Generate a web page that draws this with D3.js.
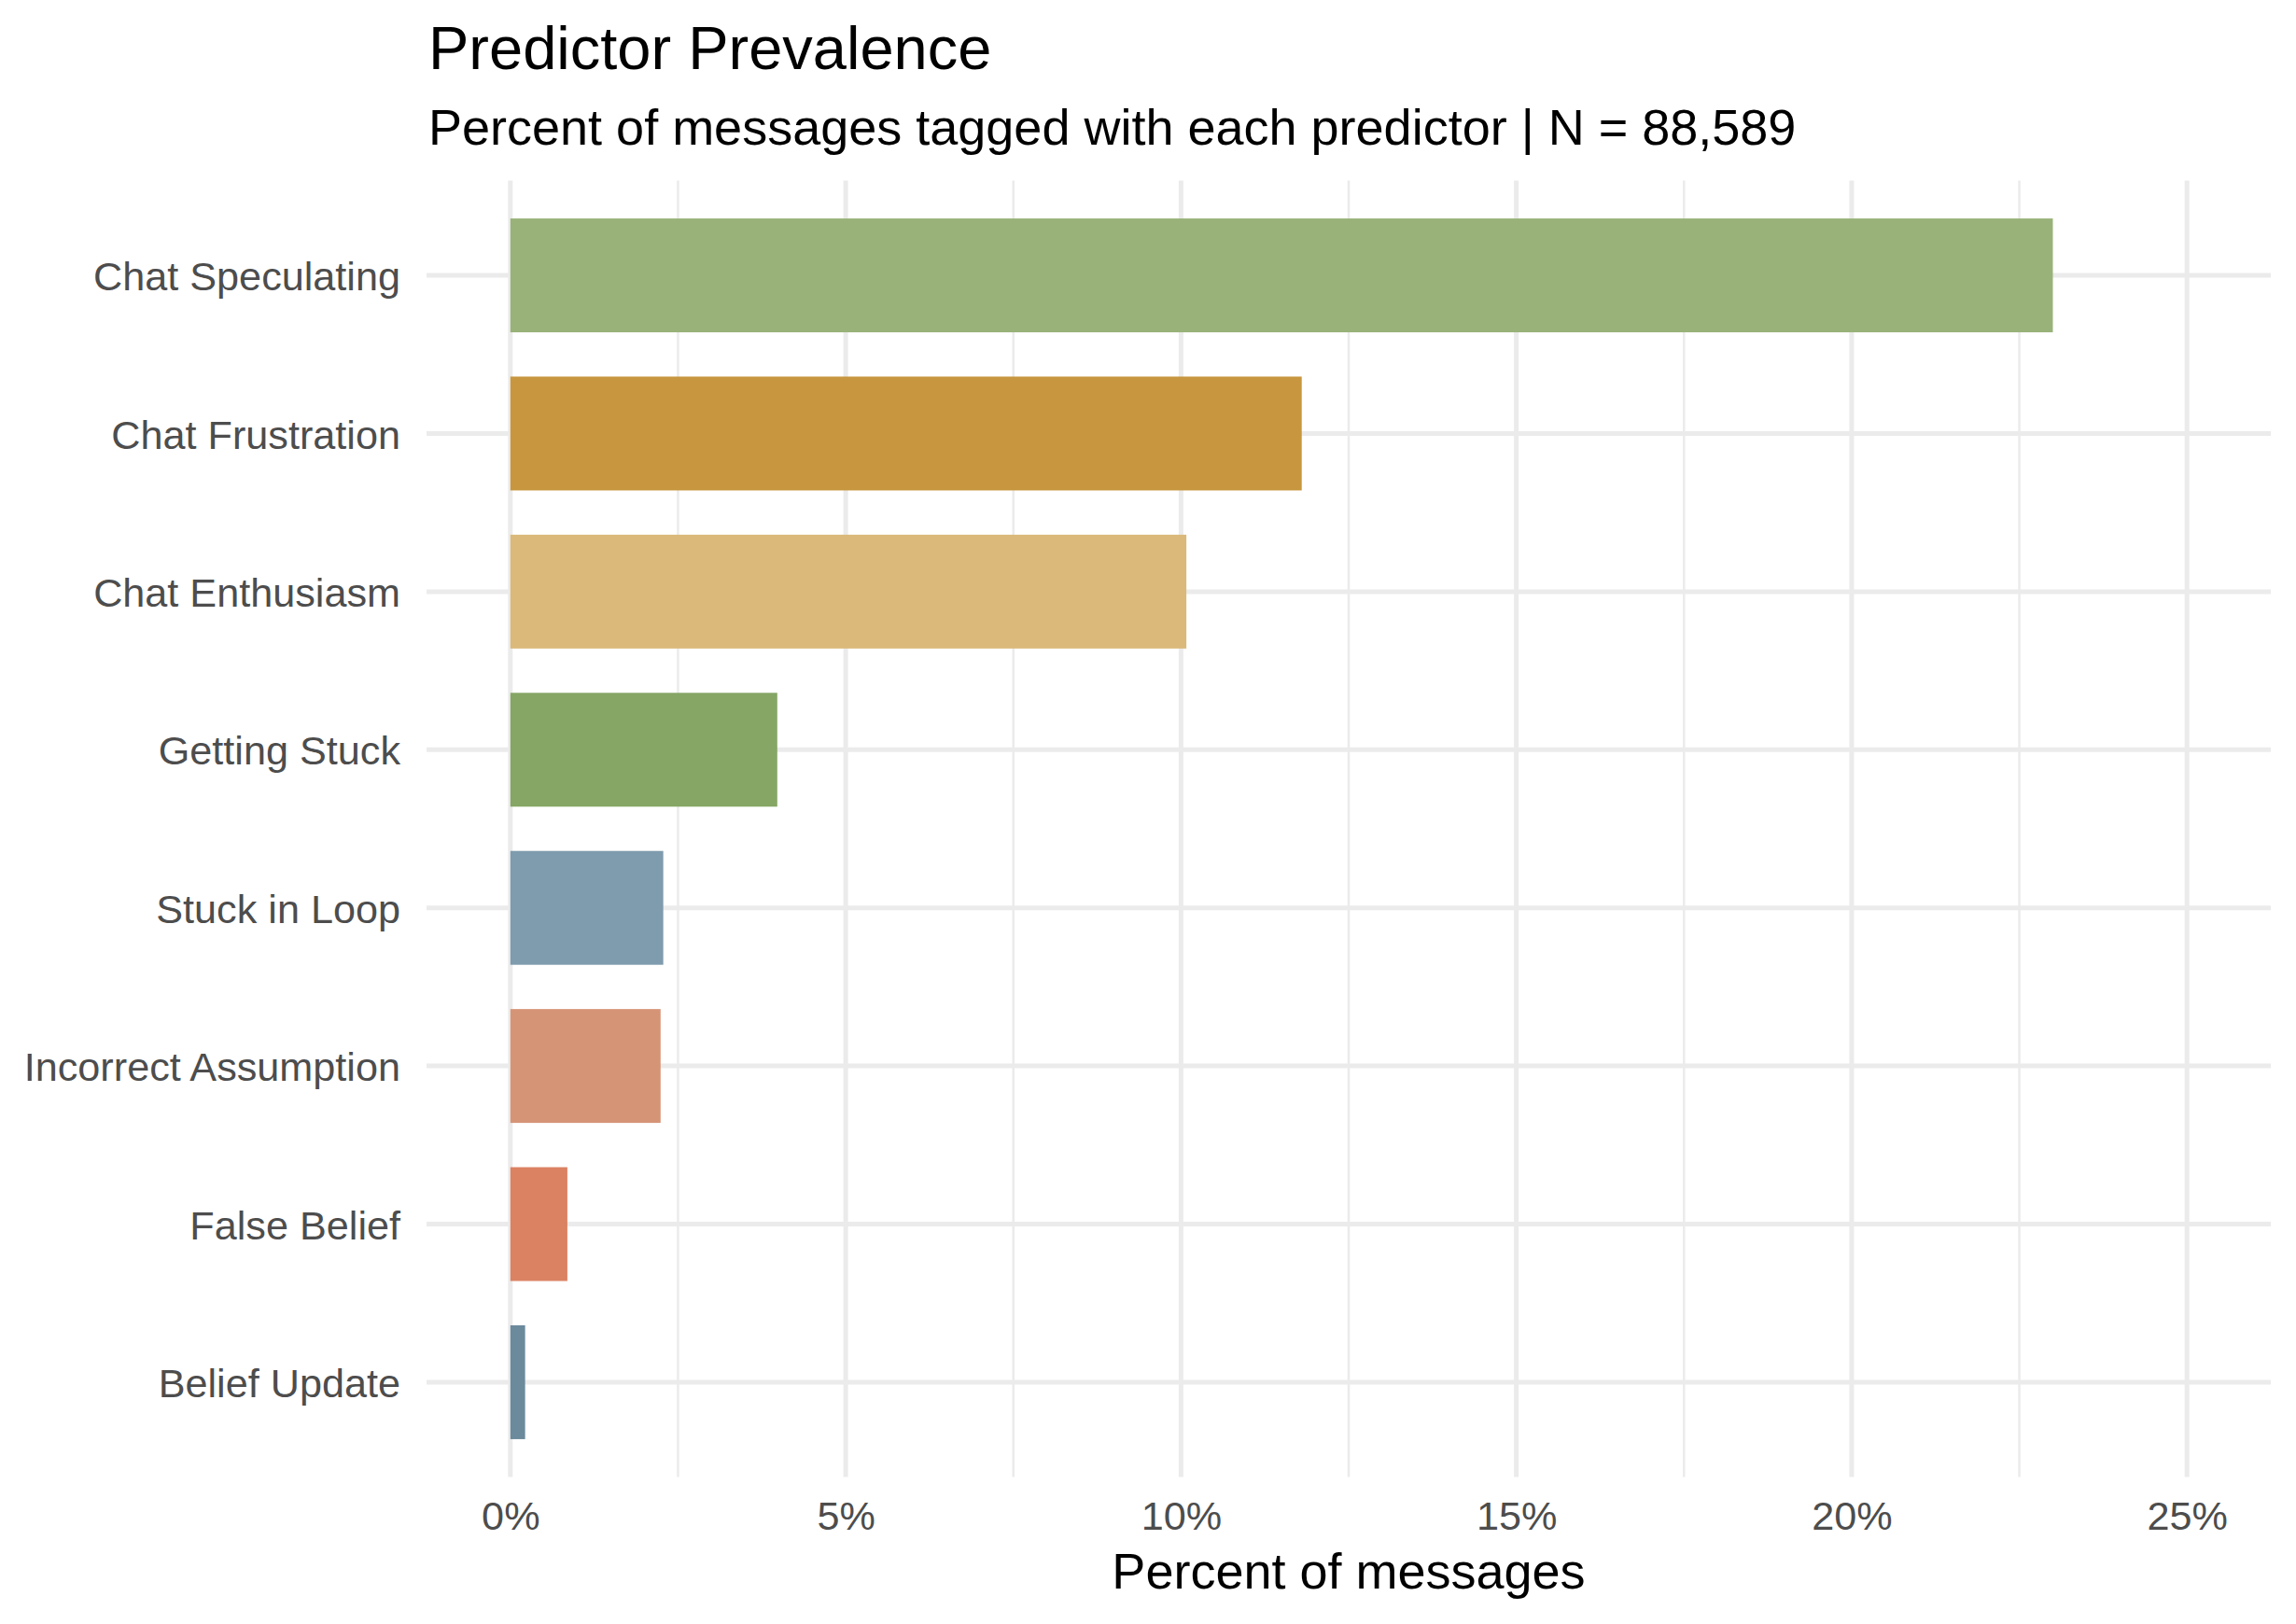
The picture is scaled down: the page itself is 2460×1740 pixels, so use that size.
<!DOCTYPE html>
<html>
<head>
<meta charset="utf-8">
<script src="https://cdn.jsdelivr.net/npm/d3@7"></script>
<style>
  body { margin: 0; background: #fff; }
  text { font-family: "Liberation Sans", Arial, sans-serif; }
</style>
</head>
<body>
<div id="chart"></div>
<script>
// data
var categories = ["Chat Speculating", "Chat Frustration", "Chat Enthusiasm", "Getting Stuck",
                  "Stuck in Loop", "Incorrect Assumption", "False Belief", "Belief Update"];
var percents = [23.0, 11.8, 10.08, 3.98, 2.28, 2.24, 0.85, 0.22];
var barColors = ["#99B279", "#C7963E", "#DBB97A", "#85A665", "#7F9BAE", "#D69477", "#DB8262", "#6B8A9C"];
var majorTicks = [0, 5, 10, 15, 20, 25];
var minorTicks = [2.5, 7.5, 12.5, 17.5, 22.5];

var width = 2460,
    height = 1740,
    panel = {left: 457, right: 2433, top: 193.4, bottom: 1582.6};

var svg = d3.select("#chart").append("svg")
    .attr("width", width)
    .attr("height", height);

// limits 0..25 with 5% expansion, like ggplot
var x = d3.scaleLinear()
    .domain([-1.25, 26.25])
    .range([panel.left, panel.right]);

var y = d3.scalePoint()
    .domain(categories)
    .range([panel.top, panel.bottom])
    .padding(0.6);

var barH = y.step() * 0.72;

// grid
var grid = svg.append("g");
grid.selectAll(".minor")
    .data(minorTicks)
    .enter().append("line")
    .attr("x1", d => x(d)).attr("x2", d => x(d))
    .attr("y1", panel.top).attr("y2", panel.bottom)
    .attr("stroke", "#EBEBEB").attr("stroke-width", 2.5);
grid.selectAll(".major")
    .data(majorTicks)
    .enter().append("line")
    .attr("x1", d => x(d)).attr("x2", d => x(d))
    .attr("y1", panel.top).attr("y2", panel.bottom)
    .attr("stroke", "#EBEBEB").attr("stroke-width", 5);
grid.selectAll(".hgrid")
    .data(categories)
    .enter().append("line")
    .attr("x1", panel.left).attr("x2", panel.right)
    .attr("y1", d => y(d)).attr("y2", d => y(d))
    .attr("stroke", "#EBEBEB").attr("stroke-width", 5);

// bars
svg.append("g").selectAll("rect")
    .data(categories)
    .enter().append("rect")
    .attr("x", x(0))
    .attr("y", d => y(d) - barH / 2)
    .attr("width", (d, i) => x(percents[i]) - x(0))
    .attr("height", barH)
    .attr("fill", (d, i) => barColors[i]);

// y axis labels
var yAxis = d3.axisLeft(y).tickSize(0).tickPadding(28);
svg.append("g")
    .attr("transform", "translate(" + panel.left + ",0)")
    .call(yAxis)
    .call(g => g.select(".domain").remove())
    .selectAll("text")
    .attr("font-size", 43.2)
    .attr("font-family", "Liberation Sans, Arial, sans-serif")
    .attr("fill", "#4D4D4D")
    .attr("dy", "0.36em");

// x axis labels
var xAxis = d3.axisBottom(x)
    .tickValues(majorTicks)
    .tickFormat(d => d + "%")
    .tickSize(0)
    .tickPadding(0);
svg.append("g")
    .attr("transform", "translate(0," + 1639 + ")")
    .call(xAxis)
    .call(g => g.select(".domain").remove())
    .selectAll("text")
    .attr("font-size", 43.2)
    .attr("font-family", "Liberation Sans, Arial, sans-serif")
    .attr("fill", "#4D4D4D")
    .attr("y", 0)
    .attr("dy", 0);

// titles
svg.append("text")
    .attr("x", 459).attr("y", 74)
    .attr("font-size", 65)
    .attr("fill", "#000")
    .text("Predictor Prevalence");

svg.append("text")
    .attr("x", 459).attr("y", 155)
    .attr("font-size", 54)
    .attr("fill", "#000")
    .text("Percent of messages tagged with each predictor | N = 88,589");

svg.append("text")
    .attr("x", (panel.left + panel.right) / 2).attr("y", 1702)
    .attr("text-anchor", "middle")
    .attr("font-size", 54)
    .attr("fill", "#000")
    .text("Percent of messages");
</script>
</body>
</html>
